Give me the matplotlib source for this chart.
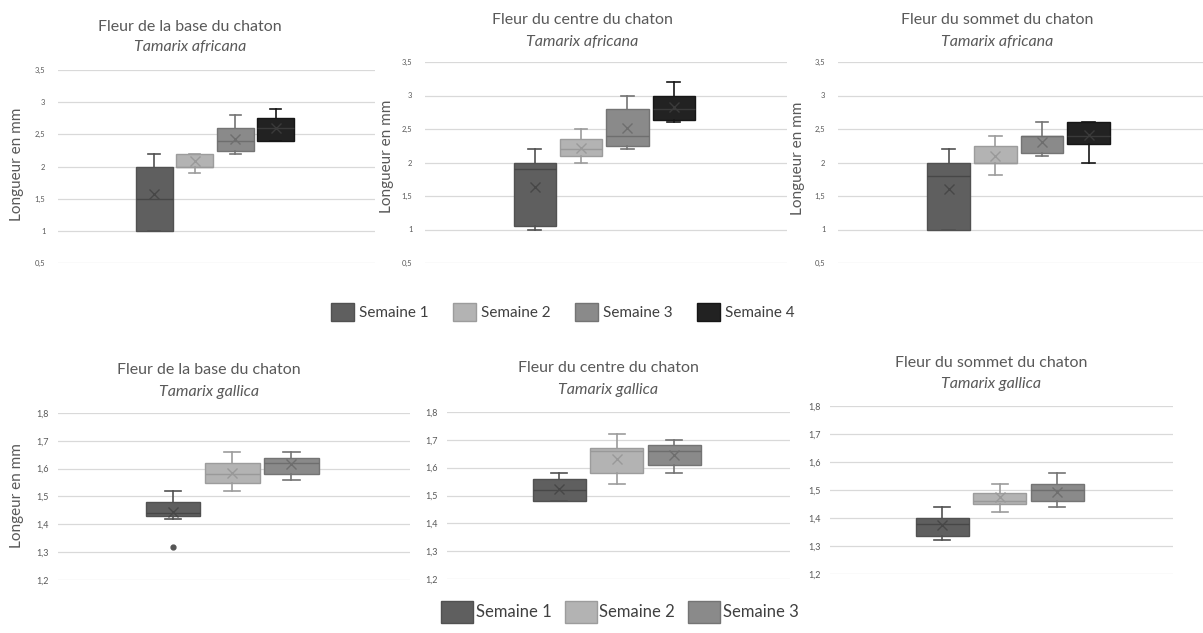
import matplotlib.pyplot as plt
from matplotlib.patches import Patch

plt.rcParams['font.family'] = ['Lato', 'DejaVu Sans']

W, H = 1203, 633

weeks = ["Semaine 1", "Semaine 2", "Semaine 3", "Semaine 4"]
titles = ["Fleur de la base du chaton", "Fleur du centre du chaton", "Fleur du sommet du chaton"]

# Tamarix africana : base, centre, sommet (one value per week)
af_low = [[1.0, 1.9, 2.2, 2.4], [1.0, 2.0, 2.2, 2.6], [1.0, 1.82, 2.1, 2.0]]
af_q1 = [[1.0, 2.0, 2.24, 2.4], [1.05, 2.1, 2.25, 2.64], [1.0, 2.0, 2.14, 2.28]]
af_med = [[1.5, 2.0, 2.4, 2.6], [1.9, 2.2, 2.4, 2.8], [1.8, 2.0, 2.4, 2.4]]
af_q3 = [[2.0, 2.2, 2.6, 2.75], [2.0, 2.35, 2.8, 3.0], [2.0, 2.25, 2.4, 2.6]]
af_high = [[2.2, 2.2, 2.8, 2.9], [2.2, 2.5, 3.0, 3.2], [2.2, 2.4, 2.6, 2.6]]
af_mean = [[1.58, 2.08, 2.42, 2.6], [1.63, 2.22, 2.51, 2.83], [1.6, 2.1, 2.3, 2.41]]
af_out = [[[], [], [], []], [[], [], [], []], [[], [], [], []]]

# Tamarix gallica : base, centre, sommet (weeks 1 to 3)
ga_low = [[1.42, 1.52, 1.56], [1.48, 1.54, 1.58], [1.32, 1.42, 1.44]]
ga_q1 = [[1.43, 1.55, 1.58], [1.48, 1.58, 1.61], [1.335, 1.45, 1.46]]
ga_med = [[1.44, 1.58, 1.62], [1.52, 1.66, 1.66], [1.38, 1.46, 1.5]]
ga_q3 = [[1.48, 1.62, 1.64], [1.56, 1.67, 1.68], [1.4, 1.49, 1.52]]
ga_high = [[1.52, 1.66, 1.66], [1.58, 1.72, 1.70], [1.44, 1.52, 1.56]]
ga_mean = [[1.445, 1.585, 1.617], [1.524, 1.63, 1.645], [1.376, 1.475, 1.494]]
ga_out = [[[1.32], [], []], [[], [], []], [[], [], []]]

fill = ["#5f5f5f", "#b3b3b3", "#8a8a8a", "#222222"]
edge = ["#515151", "#9c9c9c", "#747474", "#161616"]
dark = ["#474747", "#999999", "#6e6e6e", "#3a3a3a"]
txt = "#595959"

fig = plt.figure(figsize=(W / 100, H / 100), dpi=100)


def px_axes(left, top, right, bottom):
    return fig.add_axes([left / W, 1 - bottom / H, (right - left) / W, (bottom - top) / H])


def draw(ax, lo, q1, med, q3, hi, mean, out, width, step):
    n = len(q1)
    for i in range(n):
        pos = 0.495 + (i - (n - 1) / 2) * step
        st = [dict(whislo=lo[i], q1=q1[i], med=med[i], q3=q3[i], whishi=hi[i],
                   mean=mean[i], fliers=out[i])]
        ax.bxp(st, positions=[pos], widths=[width], capwidths=[width * 0.3],
               patch_artist=True, showmeans=True, manage_ticks=False,
               boxprops=dict(facecolor=fill[i], edgecolor=edge[i], linewidth=1),
               medianprops=dict(color=dark[i], linewidth=1),
               whiskerprops=dict(color=edge[i], linewidth=1.2),
               capprops=dict(color=edge[i], linewidth=1.2),
               meanprops=dict(marker='x', markeredgecolor=dark[i], markersize=7,
                              markeredgewidth=1),
               flierprops=dict(marker='o', markerfacecolor="#555555",
                               markeredgecolor="#555555", markersize=3.5))


def style(ax, ylim, ticks, fs, pad):
    ax.set_xlim(0, 1)
    ax.set_ylim(*ylim)
    ax.set_yticks(ticks)
    ax.set_yticklabels([f"{t:g}".replace(".", ",") for t in ticks])
    ax.set_xticks([])
    ax.grid(axis='y', color="#d9d9d9", linewidth=0.9)
    ax.set_axisbelow(True)
    for s in ax.spines.values():
        s.set_visible(False)
    ax.tick_params(axis='y', length=0, labelsize=fs, colors=txt, pad=pad)


def title(xc, y1, y2, name, species):
    fig.text(xc / W, 1 - y1 / H, name, ha='center', va='center',
             fontsize=11.5, color=txt)
    fig.text(xc / W, 1 - y2 / H, species, ha='center', va='center',
             fontsize=11.5, color=txt, style='italic')


def ylabel(x, y, s):
    fig.text(x / W, 1 - y / H, s, rotation=90, ha='center', va='center',
             fontsize=11, color=txt)


top_ticks = [0.5, 1, 1.5, 2, 2.5, 3, 3.5]
bot_ticks = [1.2, 1.3, 1.4, 1.5, 1.6, 1.7, 1.8]

# ligne du haut : Tamarix africana
top_rects = [(58, 70, 375, 263), (425, 62, 787, 263), (838, 62, 1203, 263)]
top_titles = [(190, 27, 47), (582, 20, 42), (997, 20, 42)]
top_ylab = [(17, 164), (387, 156), (798, 158)]
for k in range(3):
    ax = px_axes(*top_rects[k])
    style(ax, (0.5, 3.5), top_ticks, 5.5, 9)
    draw(ax, af_low[k], af_q1[k], af_med[k], af_q3[k], af_high[k], af_mean[k],
         af_out[k], 0.117, 0.128)
    title(*top_titles[k], titles[k], "Tamarix africana")
    ylabel(*top_ylab[k], "Longueur en mm")

# ligne du bas : Tamarix gallica
bot_rects = [(58, 413, 410, 580), (447, 412, 790, 579), (830, 406, 1173, 574)]
bot_titles = [(209, 370, 392), (608, 368, 390), (991, 363, 384)]
for k in range(3):
    ax = px_axes(*bot_rects[k])
    style(ax, (1.2, 1.8), bot_ticks, 6.5, 7)
    draw(ax, ga_low[k], ga_q1[k], ga_med[k], ga_q3[k], ga_high[k], ga_mean[k],
         ga_out[k], 0.155, 0.168)
    title(*bot_titles[k], titles[k], "Tamarix gallica")
ylabel(17, 496, "Longeur en mm")

h4 = [Patch(facecolor=fill[i], edgecolor=edge[i], label=weeks[i]) for i in range(4)]
fig.legend(handles=h4, loc='center', bbox_to_anchor=(563 / W, 1 - 312 / H), ncol=4,
           frameon=False, fontsize=11, handlelength=1.5, handleheight=1.45,
           handletextpad=0.33, columnspacing=1.6, labelcolor="#404040")
fig.legend(handles=h4[:3], loc='center', bbox_to_anchor=(620 / W, 1 - 612 / H), ncol=3,
           frameon=False, fontsize=12, handlelength=1.9, handleheight=1.65,
           handletextpad=0.17, columnspacing=0.8, labelcolor="#404040")

fig.savefig("out.png", dpi=100)
